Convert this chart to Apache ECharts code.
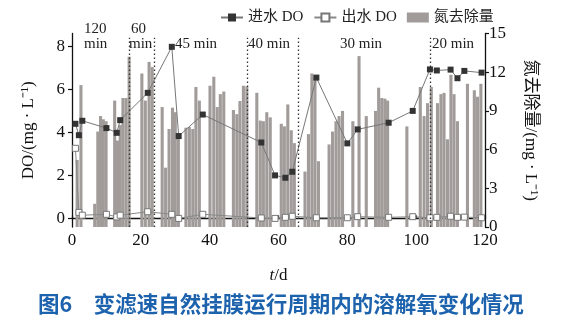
<!DOCTYPE html>
<html><head><meta charset="utf-8">
<script src="https://cdn.jsdelivr.net/npm/echarts@6/dist/echarts.min.js"></script>
<style>html,body{margin:0;padding:0;background:#fff}#c{width:562px;height:329px}</style>
</head><body><div id="c"></div>
<script>
// 进水 DO (filled squares), mg/L
const inDays = [1,2,3,10,13,14,22,29,31,38,55,59,62,64,71,80,83,92,99,104,106,110,112,114,119];
const inDO   = [4.4,3.87,4.54,4.2,3.98,4.57,5.84,7.98,3.83,4.83,3.53,2.0,1.89,2.17,6.55,3.49,4.14,4.45,5.0,6.93,6.88,6.92,6.52,6.86,6.78];
// 出水 DO (open squares), mg/L
const outDO  = [3.26,0.28,0.15,0.19,0.07,0.15,0.31,0.19,0.0,0.19,0.02,0.0,0.05,0.1,0.03,0.03,0.08,0.05,0.08,0.03,0.05,0.1,0.05,0.06,0.03];
// 氮去除量 bars: day, value (mg/L)
const barDays = [1.5,2.6,6.6,7.5,8.3,9.1,9.9,12.4,13.2,14.0,14.8,15.7,16.6,20.3,21.3,22.4,23.3,26.2,27.2,28.2,29.2,30.0,30.9,33.1,34.1,35.1,36.0,37.0,40.1,41.2,42.2,43.1,44.1,46.9,47.9,48.8,49.8,50.8,53.7,54.7,55.6,56.6,57.6,60.8,61.7,62.7,63.7,64.6,67.7,68.7,69.7,70.6,71.6,74.7,75.7,76.7,77.6,78.6,81.6,83.4,85.5,88.2,89.1,90.0,90.9,91.7,97.3,101.2,102.3,103.3,104.4,106.2,107.2,108.1,109.1,110.1,111.0,112.0,114.9,116.9,117.8,118.8];
const barVals = [5.2,11.0,1.8,7.4,8.6,8.35,8.2,9.8,6.7,7.9,10.0,10.0,13.2,11.9,9.8,12.8,12.4,9.3,4.6,7.6,9.25,8.9,6.9,7.7,7.75,7.6,10.85,9.8,10.95,11.65,9.3,10.3,10.5,9.07,8.75,9.77,10.95,10.9,10.4,8.25,8.2,8.9,8.5,8.0,7.8,9.5,7.5,6.5,4.3,7.2,11.9,11.7,5.1,6.4,7.4,8.2,8.6,9.0,8.2,13.25,8.6,9.0,10.8,10.0,9.95,9.8,7.8,10.85,8.6,9.6,10.85,9.6,10.3,10.4,6.8,11.8,10.3,8.2,11.1,10.6,10.1,11.1];
// period boundaries (day)
const boundaries = [16.6,23.9,50.9,65.6,104.2];
const leftTicks = [0,2,4,6,8];

const serif = "'Liberation Serif','Noto Sans CJK SC',serif";
const chart = echarts.init(document.getElementById('c'), null, {renderer:'canvas'});
const zip = (a,b)=>a.map((v,i)=>[v,b[i]]);
const axisCommon = {
  axisLine:{show:true,lineStyle:{color:'#111',width:1.3}},
  axisTick:{show:true,length:4,lineStyle:{color:'#111',width:1.2}},
  axisLabel:{color:'#111',fontFamily:serif,fontSize:17},
  splitLine:{show:false}
};
chart.setOption({
  animation:false,
  backgroundColor:'#fff',
  grid:{left:72,right:77,top:33.5,bottom:102},
  legend:{
    left:215, top:5, itemGap:10, itemWidth:22, itemHeight:10,
    textStyle:{fontFamily:serif,fontSize:15,color:'#222'},
    data:[{name:'进水 DO'},{name:'出水 DO'},{name:'氮去除量',icon:'rect',itemStyle:{color:'#a19c9a'}}]
  },
  xAxis:{type:'value',min:0,max:120,interval:20,...axisCommon,
    axisTick:{show:true,inside:true,length:3,lineStyle:{color:'#111',width:1.2}},
    axisLabel:{color:'#111',fontFamily:serif,fontSize:17,margin:5},
    name:'{i|t}/d',nameLocation:'middle',nameGap:40,
    nameTextStyle:{fontFamily:serif,fontSize:17,color:'#111',rich:{i:{fontStyle:'italic',fontFamily:serif,fontSize:17,color:'#111'}}}
  },
  yAxis:[
    {type:'value',min:-0.4,max:8.6,position:'left',...axisCommon,
     axisTick:{show:true,length:4,customValues:leftTicks,lineStyle:{color:'#111',width:1.2}},
     axisLabel:{color:'#111',fontFamily:serif,fontSize:17,customValues:leftTicks,margin:7},
     name:'DO/(mg · L⁻¹)',nameLocation:'middle',nameGap:35,
     nameTextStyle:{fontFamily:serif,fontSize:17,color:'#111'}},
    {type:'value',min:0,max:15,interval:3,position:'right',...axisCommon,
     axisLabel:{color:'#111',fontFamily:serif,fontSize:17,margin:4},
     name:'氮去除量/(mg · L⁻¹)',nameLocation:'middle',nameGap:37,nameRotate:-90,
     nameTextStyle:{fontFamily:serif,fontSize:17,color:'#111'}}
  ],
  series:[
    {name:'氮去除量',type:'bar',yAxisIndex:1,barWidth:3.1,data:zip(barDays,barVals),
     itemStyle:{color:'#a19c9a'},z:1},
    {name:'进水 DO',type:'line',yAxisIndex:0,data:zip(inDays,inDO),
     symbol:'rect',symbolSize:6,showAllSymbol:true,
     lineStyle:{color:'#777',width:1},itemStyle:{color:'#333',borderColor:'#333',borderWidth:0},z:3,
     markLine:{silent:true,symbol:['none','none'],label:{show:false},
       lineStyle:{type:[1.5,2.5],color:'#333',width:1.3},
       data:boundaries.map(d=>[{coord:[d,-0.4]},{coord:[d,8.4]}])}},
    {name:'出水 DO',type:'line',yAxisIndex:0,data:zip(inDays,outDO),
     symbol:'rect',symbolSize:6,showAllSymbol:true,
     lineStyle:{color:'#888',width:1},itemStyle:{color:'#fff',borderColor:'#777',borderWidth:1},z:3}
  ],
  graphic:[
    {type:'text',left:84,top:22,style:{text:'120',font:"15px "+serif,fill:'#222'}},
    {type:'text',left:84,top:37,style:{text:'min',font:"15px "+serif,fill:'#222'}},
    {type:'text',left:131,top:22,style:{text:'60',font:"15px "+serif,fill:'#222'}},
    {type:'text',left:129,top:37,style:{text:'min',font:"15px "+serif,fill:'#222'}},
    {type:'text',left:175,top:37,style:{text:'45 min',font:"15px "+serif,fill:'#222'}},
    {type:'text',left:248,top:37,style:{text:'40 min',font:"15px "+serif,fill:'#222'}},
    {type:'text',left:340,top:37,style:{text:'30 min',font:"15px "+serif,fill:'#222'}},
    {type:'text',left:432,top:37,style:{text:'20 min',font:"15px "+serif,fill:'#222'}},
    {type:'text',left:38,top:293,style:{text:'图6\u3000变滤速自然挂膜运行周期内的溶解氧变化情况',font:"bold 21.5px 'Noto Sans CJK SC',sans-serif",fill:'#1c62ad'}}
  ]
});
</script></body></html>
